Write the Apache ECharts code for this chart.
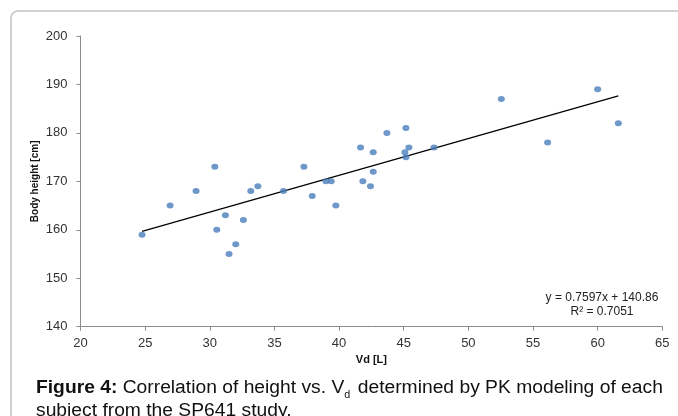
<!DOCTYPE html>
<html>
<head>
<meta charset="utf-8">
<script src="https://cdn.jsdelivr.net/npm/echarts@6/dist/echarts.min.js"></script>
<style>
html,body{margin:0;padding:0;background:#fff;}
#c{width:678px;height:416px;}
</style>
</head>
<body>
<div id="c"></div>
<script>
// Volume of distribution (Vd, L) per subject
const vd = [24.76, 26.93, 28.94, 30.39, 30.54, 31.21, 31.49, 32.01, 32.6, 33.17, 33.72,
            35.7, 37.28, 37.92, 38.98, 39.39, 39.75, 41.66, 41.84, 42.43, 42.64, 42.64,
            43.7, 45.17, 45.09, 45.17, 45.4, 47.34, 52.55, 56.13, 60.0, 61.6];
// Body height (cm) per subject
const heightCm = [159, 165, 168, 173, 160, 163, 155, 157, 162, 168, 169,
                  168, 173, 167, 170, 170, 165, 177, 170, 169, 176, 172,
                  180, 181, 176, 175, 177, 177, 187, 178, 189, 182];
// Linear trendline reported in the figure
const slope = 0.7597, intercept = 140.86, r2 = 0.7051;
const xTicks = [20, 25, 30, 35, 40, 45, 50, 55, 60, 65];
const yTicks = [140, 150, 160, 170, 180, 190, 200];

const points = vd.map((v, i) => [v, heightCm[i]]);
const xMin = Math.min(...vd), xMax = Math.max(...vd);
const trend = [[xMin, slope * xMin + intercept], [xMax, slope * xMax + intercept]];

const chart = echarts.init(document.getElementById('c'), null, {renderer: 'canvas'});
const tickFont = '"Liberation Sans", Arial, sans-serif';
chart.setOption({
  animation: false,
  backgroundColor: '#fff',
  grid: {left: 80.5, right: 15.7, top: 36, bottom: 89.3},
  xAxis: {
    type: 'value', min: xTicks[0], max: xTicks[xTicks.length - 1], interval: 5,
    name: 'Vd [L]', nameLocation: 'middle', nameGap: 26,
    nameTextStyle: {fontFamily: tickFont, fontWeight: 'bold', fontSize: 11, color: '#111'},
    axisLine: {lineStyle: {color: '#8c8c8c', width: 1}},
    axisTick: {show: true, length: 4, lineStyle: {color: '#8c8c8c'}},
    axisLabel: {fontFamily: tickFont, fontSize: 13, color: '#333', margin: 10},
    splitLine: {show: false}
  },
  yAxis: {
    type: 'value', min: yTicks[0], max: yTicks[yTicks.length - 1], interval: 10,
    name: 'Body height [cm]', nameLocation: 'middle', nameGap: 40, nameRotate: 90,
    nameMoveOverlap: false,
    nameTextStyle: {fontFamily: tickFont, fontWeight: 'bold', fontSize: 10, color: '#111'},
    axisLine: {show: true, lineStyle: {color: '#8c8c8c', width: 1}},
    axisTick: {show: true, length: 4, lineStyle: {color: '#8c8c8c'}},
    axisLabel: {fontFamily: tickFont, fontSize: 13, color: '#333', margin: 13},
    splitLine: {show: false}
  },
  series: [
    {
      type: 'scatter', data: points, symbol: 'circle', symbolSize: [7, 6],
      itemStyle: {color: '#4a7ebb'}, z: 3
    },
    {
      type: 'line', data: trend, showSymbol: false, symbol: 'none',
      lineStyle: {color: '#000', width: 1.2}, z: 2
    }
  ],
  graphic: [
    {
      type: 'rect', z: -10,
      shape: {x: 11, y: 11, width: 720, height: 460, r: 7},
      style: {fill: 'none', stroke: '#c4c4c4', lineWidth: 1.6}
    },
    {
      type: 'text', x: 602, y: 291, z: 10,
      style: {
        text: 'y = ' + slope + 'x + ' + intercept.toFixed(2) + '\nR² = ' + r2,
        font: '12px ' + tickFont, fill: '#222', align: 'center', verticalAlign: 'top',
        lineHeight: 14
      }
    },
    {
      type: 'text', x: 36, y: 377, z: 10, scaleX: 1.07,
      style: {
        text: '{b|Figure 4:} Correlation of height vs. V{s|d} determined by PK modeling of each\nsubject from the SP641 study.',
        fontFamily: '"Liberation Sans", Arial, sans-serif', fontSize: 18, fill: '#111',
        lineHeight: 23, verticalAlign: 'top',
        rich: {
          b: {fontWeight: 'bold', fontSize: 18, fontFamily: '"Liberation Sans", Arial, sans-serif', lineHeight: 23},
          s: {fontSize: 10, verticalAlign: 'bottom', lineHeight: 23, padding: [0, 2, 0, 0], fontFamily: '"Liberation Sans", Arial, sans-serif'}
        }
      }
    }
  ]
});
</script>
</body>
</html>
